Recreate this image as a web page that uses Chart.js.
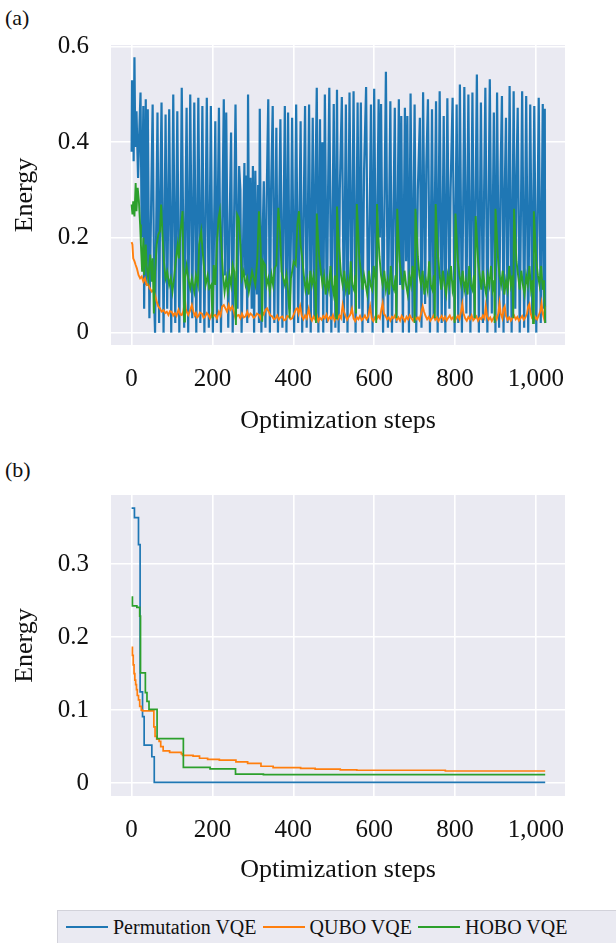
<!DOCTYPE html>
<html>
<head>
<meta charset="utf-8">
<title>Energy vs optimization steps</title>
<script src="https://cdn.jsdelivr.net/npm/chart.js@4.4.1/dist/chart.umd.min.js"></script>
<style>
  body {
    margin: 0;
    width: 616px;
    height: 943px;
    overflow: hidden;
    position: relative;
    background: #ffffff;
    font-family: 'Liberation Serif', 'Times New Roman', serif;
    color: #111111;
  }
  canvas { position: absolute; left: 0; }
  #chart-a { top: 0; }
  #chart-b { top: 450px; }
  .panel-tag { position: absolute; left: 5px; font-size: 22px; line-height: 1; }
  #legend {
    position: absolute;
    left: 57px;
    top: 910px;
    width: 600px;
    height: 40px;
    box-sizing: border-box;
    background: #eaeaf2;
    border: 1px solid #d2d2da;
    display: flex;
    align-items: center;
    padding: 0 0 6px 8px;
    font-size: 20px;
  }
  .swatch { display: block; width: 42px; height: 2px; margin-right: 5px; }
  .legend-text { margin-right: 6px; white-space: nowrap; }
</style>
</head>
<body>
<div class="panel-tag" style="top:7px">(a)</div>
<div class="panel-tag" style="top:459px">(b)</div>
<canvas id="chart-a" width="616" height="450"></canvas>
<canvas id="chart-b" width="616" height="450"></canvas>
<div id="legend"></div>

<script>
/* ============================================
   Datos: [paso, energía]
   ============================================ */

const seriesNames = ['Permutation VQE', 'QUBO VQE', 'HOBO VQE'];
const seriesColors = ['#1f77b4', '#ff7f0e', '#2ca02c'];

const stepTicks = [0, 200, 400, 600, 800, 1000];
const energyTicksA = [0, 0.2, 0.4, 0.6];
const energyTicksB = [0, 0.1, 0.2, 0.3];

// (a) energía en cada paso (puntos de giro de la curva)
const permutationA = [
  [0,0.38],[1,0.53],[2,0.38],[4,0.53],[5,0.36],[7,0.578],[9,0.39],[12,0.465],[16,0.325],[19,0.42],
  [22,0.504],[25,0.20],[29,0.476],[31,0.05],[35,0.49],[37,0.10],[40,0.469],[44,0.03],[48,0.25],[52,0.479],
  [56,0.06],[58,0.0],[64,0.462],[68,0.02],[71,0.30],[74,0.483],[79,0.0],[84,0.458],[88,0.05],[93,0.469],
  [98,0.0],[103,0.50],[108,0.02],[113,0.465],[118,0.0],[121,0.20],[124,0.514],[130,0.01],[136,0.472],[140,0.0],
  [145,0.50],[150,0.03],[155,0.483],[160,0.0],[165,0.493],[170,0.02],[175,0.476],[180,0.0],[183,0.25],[186,0.493],
  [191,0.01],[196,0.476],[201,0.0],[207,0.444],[211,0.02],[213,0.25],[216,0.472],[221,0.0],[228,0.49],[231,0.12],
  [234,0.462],[239,0.01],[242,0.20],[246,0.42],[250,0.0],[257,0.479],[262,0.05],[266,0.35],[269,0.30],[272,0.0],
  [279,0.356],[281,0.12],[283,0.33],[286,0.02],[288,0.50],[291,0.10],[294,0.325],[297,0.05],[300,0.35],[303,0.0],
  [306,0.34],[310,0.08],[313,0.31],[315,0.02],[317,0.47],[321,0.0],[324,0.20],[327,0.318],[331,0.01],[334,0.28],
  [338,0.49],[342,0.0],[345,0.30],[349,0.476],[353,0.02],[358,0.43],[362,0.0],[365,0.25],[368,0.448],[373,0.01],
  [379,0.476],[383,0.0],[387,0.462],[391,0.05],[394,0.20],[397,0.451],[402,0.0],[407,0.479],[412,0.02],[418,0.444],
  [422,0.0],[426,0.28],[429,0.476],[433,0.01],[439,0.479],[443,0.0],[448,0.451],[452,0.03],[455,0.33],[458,0.514],
  [462,0.0],[466,0.448],[469,0.12],[472,0.40],[474,0.0],[478,0.50],[483,0.02],[486,0.30],[489,0.514],[494,0.0],
  [500,0.48],[504,0.01],[508,0.51],[512,0.0],[515,0.30],[520,0.495],[525,0.02],[530,0.479],[534,0.0],[539,0.504],
  [544,0.04],[549,0.507],[554,0.0],[559,0.483],[563,0.05],[567,0.483],[571,0.0],[575,0.34],[580,0.516],[585,0.02],
  [589,0.25],[592,0.479],[596,0.0],[600,0.512],[605,0.03],[611,0.49],[614,0.20],[617,0.48],[622,0.0],[629,0.548],
  [634,0.01],[640,0.486],[644,0.0],[651,0.472],[655,0.02],[661,0.49],[664,0.10],[667,0.455],[671,0.0],[676,0.472],
  [679,0.15],[682,0.455],[686,0.0],[690,0.502],[695,0.03],[700,0.479],[704,0.0],[708,0.30],[713,0.451],[717,0.01],
  [721,0.505],[726,0.06],[729,0.35],[733,0.49],[738,0.0],[743,0.469],[747,0.03],[753,0.486],[757,0.0],[762,0.507],
  [767,0.02],[772,0.455],[776,0.0],[781,0.492],[786,0.05],[789,0.30],[794,0.493],[799,0.0],[804,0.479],[808,0.02],
  [812,0.521],[817,0.0],[823,0.516],[828,0.04],[833,0.50],[838,0.0],[843,0.504],[848,0.03],[854,0.542],[859,0.0],
  [864,0.483],[869,0.02],[872,0.30],[875,0.514],[880,0.0],[886,0.532],[891,0.04],[896,0.462],[900,0.0],[904,0.504],
  [909,0.01],[913,0.35],[916,0.497],[920,0.0],[923,0.30],[926,0.451],[930,0.02],[935,0.518],[940,0.0],[945,0.507],
  [949,0.05],[952,0.33],[955,0.472],[960,0.0],[966,0.507],[971,0.01],[976,0.497],[981,0.0],[986,0.479],[991,0.03],
  [996,0.476],[1001,0.0],[1007,0.493],[1012,0.02],[1017,0.48],[1020,0.05],[1022,0.47],[1023,0.02]
];

const quboA = [
  [0,0.19],[2,0.185],[4,0.156],[7,0.15],[10,0.142],[13,0.135],[17,0.121],[21,0.114],[25,0.118],[29,0.107],
  [33,0.114],[37,0.10],[41,0.102],[45,0.093],[50,0.086],[54,0.09],[58,0.079],[62,0.065],[66,0.055],[70,0.051],
  [74,0.044],[79,0.047],[83,0.041],[87,0.044],[91,0.037],[95,0.045],[99,0.044],[103,0.036],[107,0.041],[111,0.035],
  [116,0.048],[120,0.038],[124,0.037],[128,0.045],[132,0.069],[134,0.05],[136,0.044],[140,0.037],[144,0.045],[149,0.058],
  [153,0.044],[156,0.036],[159,0.041],[162,0.032],[165,0.034],[169,0.042],[174,0.04],[178,0.031],[182,0.034],[186,0.041],
  [190,0.037],[194,0.03],[198,0.04],[202,0.035],[207,0.037],[211,0.03],[216,0.044],[220,0.036],[224,0.055],[228,0.058],
  [232,0.051],[236,0.044],[240,0.058],[244,0.048],[249,0.055],[253,0.044],[257,0.03],[261,0.036],[265,0.037],[269,0.03],
  [273,0.04],[277,0.032],[282,0.034],[286,0.044],[290,0.034],[294,0.04],[298,0.037],[302,0.031],[306,0.034],[310,0.04],
  [315,0.037],[319,0.03],[323,0.044],[327,0.038],[331,0.048],[335,0.051],[339,0.044],[343,0.036],[348,0.034],[352,0.028],
  [356,0.03],[360,0.036],[364,0.027],[368,0.032],[373,0.034],[377,0.026],[381,0.027],[385,0.035],[389,0.034],[393,0.028],
  [397,0.03],[401,0.038],[404,0.044],[407,0.05],[410,0.051],[413,0.04],[417,0.055],[421,0.035],[425,0.028],[429,0.036],
  [433,0.03],[438,0.05],[442,0.032],[446,0.025],[450,0.034],[454,0.028],[458,0.036],[462,0.024],[466,0.031],[470,0.027],
  [474,0.035],[478,0.03],[482,0.038],[486,0.026],[490,0.033],[494,0.029],[498,0.037],[502,0.025],[506,0.032],[510,0.028],
  [514,0.036],[518,0.03],[522,0.058],[525,0.045],[529,0.035],[533,0.027],[537,0.033],[541,0.038],[545,0.05],[549,0.03],
  [553,0.024],[557,0.032],[561,0.028],[565,0.035],[569,0.026],[573,0.03],[577,0.036],[581,0.028],[585,0.033],[590,0.055],
  [594,0.03],[598,0.024],[602,0.032],[606,0.028],[610,0.035],[614,0.03],[618,0.05],[621,0.062],[624,0.04],[628,0.035],
  [632,0.028],[636,0.032],[640,0.025],[644,0.033],[648,0.03],[652,0.037],[656,0.027],[660,0.032],[664,0.025],[668,0.035],
  [672,0.03],[676,0.024],[680,0.033],[684,0.028],[688,0.036],[692,0.03],[696,0.025],[700,0.034],[704,0.028],[708,0.032],
  [712,0.026],[716,0.04],[720,0.055],[723,0.045],[727,0.035],[731,0.028],[735,0.033],[739,0.025],[743,0.03],[747,0.036],
  [751,0.027],[755,0.032],[759,0.024],[763,0.03],[767,0.035],[771,0.027],[775,0.033],[779,0.025],[783,0.031],[787,0.036],
  [791,0.028],[795,0.032],[799,0.024],[803,0.03],[807,0.035],[811,0.028],[815,0.045],[818,0.06],[821,0.04],[825,0.03],
  [829,0.025],[833,0.033],[837,0.028],[841,0.036],[845,0.026],[849,0.03],[853,0.034],[857,0.025],[861,0.031],[865,0.028],
  [869,0.036],[873,0.03],[876,0.055],[879,0.035],[883,0.027],[887,0.032],[891,0.024],[895,0.03],[899,0.035],[903,0.028],
  [907,0.04],[910,0.062],[913,0.04],[917,0.03],[920,0.05],[923,0.055],[926,0.035],[930,0.027],[934,0.032],[938,0.025],
  [942,0.031],[946,0.036],[950,0.028],[954,0.033],[958,0.025],[962,0.03],[966,0.035],[970,0.027],[974,0.032],[978,0.04],
  [981,0.055],[984,0.06],[987,0.04],[991,0.03],[995,0.025],[999,0.033],[1003,0.028],[1007,0.036],[1011,0.045],[1014,0.062],
  [1017,0.04],[1020,0.03],[1023,0.055]
];

const hoboA = [
  [0,0.269],[2,0.248],[4,0.276],[7,0.244],[10,0.314],[12,0.255],[15,0.304],[18,0.276],[21,0.227],[23,0.185],
  [26,0.128],[29,0.199],[31,0.121],[35,0.185],[37,0.142],[41,0.114],[46,0.164],[50,0.107],[52,0.156],[55,0.04],
  [58,0.128],[62,0.185],[66,0.206],[70,0.213],[73,0.269],[76,0.213],[80,0.149],[84,0.114],[88,0.128],[93,0.10],
  [97,0.114],[101,0.086],[105,0.114],[109,0.149],[114,0.185],[117,0.156],[121,0.213],[126,0.255],[128,0.128],[130,0.023],
  [132,0.114],[136,0.14],[140,0.114],[145,0.093],[149,0.114],[155,0.086],[159,0.12],[164,0.10],[167,0.185],[172,0.213],
  [175,0.178],[180,0.128],[183,0.10],[188,0.12],[192,0.093],[197,0.10],[200,0.03],[203,0.142],[207,0.10],[211,0.185],
  [215,0.24],[218,0.255],[222,0.185],[226,0.121],[230,0.086],[234,0.114],[238,0.086],[242,0.121],[246,0.10],[250,0.142],
  [254,0.128],[258,0.016],[261,0.248],[265,0.24],[269,0.185],[273,0.114],[277,0.128],[282,0.10],[286,0.114],[290,0.086],
  [294,0.107],[298,0.128],[302,0.114],[306,0.10],[311,0.156],[315,0.255],[319,0.185],[323,0.023],[325,0.15],[330,0.142],
  [334,0.10],[338,0.114],[342,0.086],[346,0.121],[350,0.10],[354,0.135],[358,0.142],[363,0.262],[367,0.213],[371,0.128],
  [375,0.114],[379,0.10],[383,0.121],[387,0.086],[391,0.03],[394,0.114],[397,0.128],[401,0.149],[406,0.142],[410,0.227],
  [414,0.255],[418,0.185],[422,0.156],[426,0.12],[430,0.09],[434,0.11],[438,0.08],[442,0.13],[446,0.10],[450,0.12],
  [454,0.09],[456,0.02],[458,0.25],[461,0.20],[464,0.16],[468,0.13],[472,0.10],[476,0.12],[480,0.08],[484,0.11],
  [488,0.09],[492,0.14],[496,0.10],[500,0.08],[503,0.12],[506,0.03],[508,0.265],[511,0.21],[514,0.17],[518,0.12],
  [522,0.10],[526,0.13],[530,0.09],[534,0.11],[538,0.08],[542,0.15],[546,0.10],[550,0.09],[554,0.12],[555,0.04],
  [557,0.27],[560,0.22],[563,0.16],[567,0.13],[571,0.09],[575,0.12],[579,0.10],[583,0.08],[587,0.13],[591,0.10],
  [595,0.09],[599,0.14],[603,0.11],[605,0.02],[607,0.27],[610,0.21],[613,0.16],[617,0.12],[621,0.10],[625,0.13],
  [629,0.09],[633,0.11],[637,0.08],[641,0.14],[645,0.10],[649,0.09],[653,0.12],[655,0.03],[657,0.26],[660,0.20],
  [663,0.15],[667,0.12],[671,0.09],[675,0.13],[679,0.10],[683,0.08],[687,0.12],[691,0.10],[695,0.14],[699,0.11],
  [700,0.02],[702,0.26],[705,0.21],[708,0.16],[712,0.12],[716,0.10],[720,0.13],[724,0.08],[728,0.11],[732,0.09],
  [736,0.15],[740,0.10],[744,0.09],[748,0.12],[750,0.03],[752,0.27],[755,0.21],[758,0.16],[762,0.12],[766,0.09],
  [770,0.13],[774,0.10],[778,0.08],[782,0.12],[786,0.10],[790,0.14],[794,0.09],[798,0.11],[799,0.02],[801,0.25],
  [804,0.20],[807,0.15],[811,0.12],[815,0.10],[819,0.13],[823,0.09],[827,0.11],[831,0.08],[835,0.14],[839,0.10],
  [843,0.09],[847,0.12],[849,0.03],[851,0.245],[854,0.20],[857,0.15],[861,0.12],[865,0.09],[869,0.13],[873,0.10],
  [877,0.08],[881,0.12],[885,0.10],[889,0.14],[893,0.09],[897,0.11],[898,0.02],[900,0.26],[903,0.21],[906,0.16],
  [910,0.12],[914,0.10],[918,0.13],[922,0.08],[926,0.11],[930,0.09],[934,0.14],[938,0.10],[942,0.12],[944,0.03],
  [946,0.26],[949,0.20],[952,0.15],[956,0.12],[960,0.09],[964,0.13],[968,0.10],[972,0.08],[976,0.12],[980,0.10],
  [984,0.14],[988,0.09],[992,0.11],[993,0.02],[995,0.255],[998,0.20],[1001,0.15],[1005,0.12],[1009,0.10],[1013,0.14],
  [1017,0.09],[1020,0.11],[1023,0.02]
];

// (b) mejor energía encontrada hasta cada paso (solo cambios)
const permutationB = [
  [0,0.377],[7,0.364],[17,0.327],[21,0.125],[27,0.091],[31,0.052],[50,0.036],[56,0.001],[1023,0.001]
];
const quboB = [
  [0,0.186],[2,0.175],[4,0.162],[6,0.15],[8,0.141],[10,0.135],[12,0.128],[14,0.12],[17,0.114],[20,0.105],
  [24,0.1],[27,0.099],[55,0.077],[58,0.064],[62,0.06],[68,0.057],[72,0.05],[78,0.044],[94,0.042],[123,0.04],
  [126,0.038],[152,0.037],[168,0.034],[188,0.0325],[217,0.0315],[258,0.029],[287,0.027],[320,0.023],[350,0.021],[418,0.020],
  [454,0.019],[516,0.018],[557,0.0175],[776,0.0165],[1023,0.0165]
];
const hoboB = [
  [0,0.255],[2,0.243],[13,0.241],[20,0.229],[22,0.151],[34,0.124],[38,0.112],[43,0.101],[63,0.061],[128,0.0215],
  [194,0.0195],[257,0.0123],[326,0.0114],[1023,0.0114]
];

/* ============================================
   Gráficas
   ============================================ */

const STEP_MIN = -51;
const STEP_MAX = 1072;

const tickFont = { family: "'Liberation Serif', 'Times New Roman', serif", size: 25 };
const titleFont = { family: "'Liberation Serif', 'Times New Roman', serif", size: 26 };

const plotBackground = {
  id: 'plotBackground',
  beforeDraw(chart) {
    const { ctx, chartArea: a } = chart;
    ctx.save();
    ctx.fillStyle = '#eaeaf2';
    ctx.fillRect(a.left, a.top, a.right - a.left, a.bottom - a.top);
    ctx.restore();
  },
};

function toPoints(pairs) {
  return pairs.map(([x, y]) => ({ x, y }));
}

function formatEnergy(v) {
  return v === 0 ? '0' : v.toFixed(1);
}

function buildChart(canvasId, series, cfg) {
  const datasets = series.map((pairs, i) => ({
    label: seriesNames[i],
    data: toPoints(pairs),
    borderColor: seriesColors[i],
    borderWidth: cfg.lineWidths[i],
    pointRadius: 0,
    tension: 0,
    fill: false,
    // 'before': tramo horizontal con el valor anterior y luego el salto vertical
    stepped: cfg.stepped,
    order: series.length - i,
  }));

  return new Chart(document.getElementById(canvasId), {
    type: 'line',
    data: { datasets },
    options: {
      responsive: false,
      animation: false,
      events: [],
      layout: { padding: { top: 45, right: 51, bottom: 0, left: 0 } },
      plugins: {
        legend: { display: false },
        tooltip: { enabled: false },
      },
      scales: {
        x: {
          type: 'linear',
          min: STEP_MIN,
          max: STEP_MAX,
          afterBuildTicks: (s) => { s.ticks = stepTicks.map((v) => ({ value: v })); },
          afterFit: (s) => { s.height = cfg.xAxisHeight; },
          grid: { color: '#ffffff', lineWidth: 1.6, drawTicks: false },
          border: { display: false },
          ticks: {
            padding: 19,
            color: '#111111',
            font: tickFont,
            maxRotation: 0,
            autoSkip: false,
            callback: (v) => v.toLocaleString('en-US'),
          },
          title: {
            display: true,
            text: 'Optimization steps',
            color: '#111111',
            font: titleFont,
            padding: { top: 0, bottom: cfg.xTitlePad },
          },
        },
        y: {
          min: cfg.yMin,
          max: cfg.yMax,
          afterBuildTicks: (s) => { s.ticks = cfg.yTicks.map((v) => ({ value: v })); },
          afterFit: (s) => { s.width = 111; },
          grid: { color: '#ffffff', lineWidth: 1.6, drawTicks: false },
          border: { display: false },
          ticks: {
            padding: 22,
            color: '#111111',
            font: tickFont,
            callback: (v) => formatEnergy(v),
          },
          title: {
            display: true,
            text: 'Energy',
            color: '#111111',
            font: titleFont,
            padding: { top: 10, bottom: 0 },
          },
        },
      },
    },
    plugins: [plotBackground],
  });
}

function renderLegend() {
  const legend = document.getElementById('legend');
  seriesNames.forEach((name, i) => {
    const swatch = document.createElement('span');
    swatch.className = 'swatch';
    swatch.style.backgroundColor = seriesColors[i];
    const text = document.createElement('span');
    text.className = 'legend-text';
    text.textContent = name;
    legend.appendChild(swatch);
    legend.appendChild(text);
  });
}

buildChart('chart-a', [permutationA, quboA, hoboA], {
  yMin: -0.026, yMax: 0.604, yTicks: energyTicksA,
  stepped: false, lineWidths: [2.2, 1.9, 1.9], xAxisHeight: 105, xTitlePad: 13,
});

buildChart('chart-b', [permutationB, quboB, hoboB], {
  yMin: -0.0178, yMax: 0.395, yTicks: energyTicksB,
  stepped: 'before', lineWidths: [1.7, 1.7, 1.7], xAxisHeight: 104, xTitlePad: 14,
});

renderLegend();
</script>
</body>
</html>
